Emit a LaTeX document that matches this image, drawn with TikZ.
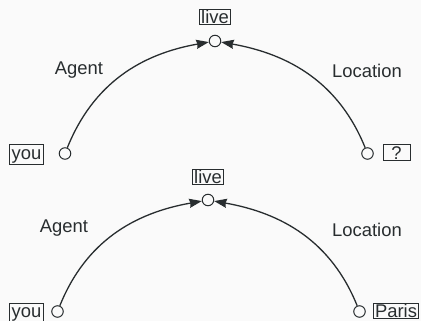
\documentclass[tikz,border=0pt]{standalone}
\usepackage{fontspec}
\setmainfont{Liberation Sans}
\usetikzlibrary{arrows.meta}
\definecolor{ink}{RGB}{40,45,47}
\definecolor{bg}{RGB}{250,250,250}
\begin{document}
\begin{tikzpicture}[x=1pt,y=-1pt,
  every node/.style={text=ink,font=\fontsize{18.4}{20}\selectfont},
  wordbox/.style={draw=ink,line width=0.9pt,inner xsep=1.8pt,inner ysep=1.2pt,text height=13.2pt},
  rel/.style={text=ink},
  dot/.style={circle,draw=ink,line width=1pt,minimum size=11.5pt,inner sep=0pt,fill=bg},
  relarrow/.style={draw=ink,line width=1.3pt,arrows={-Stealth[length=12.5pt,width=9pt,inset=1pt]}}]
\fill[bg] (0,0) rectangle (421,321);
\useasboundingbox (0,0) rectangle (421,321);
% top
\node[dot] (t1) at (215,41) {};
\node[dot] (l1) at (65,153.5) {};
\node[dot] (r1) at (367.5,153.5) {};
\node[wordbox] (live1) at (215,17) {live};
\node[wordbox,anchor=north] (you1) at (26.5,144.5) {you};
\node[wordbox,minimum width=27pt,anchor=north] (q1) at (396.5,144.5) {?};
\node[rel] (ag1) at (79,70) {Agent};
\node[rel] (lo1) at (367,71) {Location};
\draw[relarrow] (l1) to[out=68,in=190] (t1);
\draw[relarrow] (r1) to[out=112,in=-10] (t1);
% bottom
\node[dot] (t2) at (208,200) {};
\node[dot] (l2) at (57.5,311.5) {};
\node[dot] (r2) at (359.5,311.5) {};
\node[wordbox] (live2) at (208,177) {live};
\node[wordbox,anchor=north] (you2) at (26.5,302.5) {you};
\node[wordbox,anchor=north] (p2) at (396,302.5) {Paris};
\node[rel] (ag2) at (64,228) {Agent};
\node[rel] (lo2) at (367,230) {Location};
\draw[relarrow] (l2) to[out=68,in=190] (t2);
\draw[relarrow] (r2) to[out=112,in=-10] (t2);
\end{tikzpicture}
\end{document}
